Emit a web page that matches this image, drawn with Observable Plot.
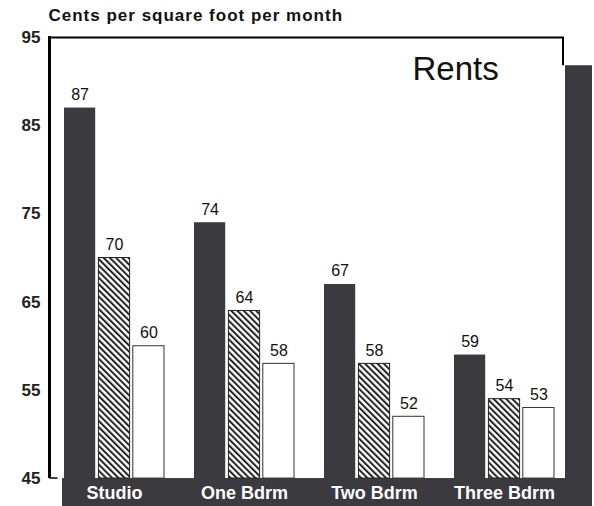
<!DOCTYPE html>
<html><head><meta charset="utf-8">
<script src="https://cdn.jsdelivr.net/npm/d3@7"></script>
<script src="https://cdn.jsdelivr.net/npm/@observablehq/plot@0.6"></script>
<style>body{margin:0;background:#fff} svg{display:block}</style>
</head><body><div id="chart"></div>
<script>
const categories = ["Studio", "One Bdrm", "Two Bdrm", "Three Bdrm"];
const seriesA = [87, 74, 67, 59];
const seriesB = [70, 64, 58, 54];
const seriesC = [60, 58, 52, 53];
const yTicks = [45, 55, 65, 75, 85, 95];
const title = "Rents";
const yLabel = "Cents per square foot per month";

const rows = [];
categories.forEach((c, i) => {
  rows.push({cat: c, s: 0, v: seriesA[i]});
  rows.push({cat: c, s: 1, v: seriesB[i]});
  rows.push({cat: c, s: 2, v: seriesC[i]});
});

const DARK = "#3a3a3f";
const yMin = 41.83, yBase = 45, yTop = 95, yShelf = 91.8;
const BW = 100.8, BAR = 32, STEP = 34.4;
const inL = s => s * STEP;
const inR = s => BW - (s * STEP + BAR);
const cdx = s => s * STEP + BAR / 2 - BW / 2;

// left axis line drawn with the plot's own y scale
function axisLine(index, scales, values, dimensions) {
  const g = d3.create("svg:g");
  const x = dimensions.marginLeft - 13.5;
  g.append("line").attr("x1", x).attr("x2", x)
    .attr("y1", scales.y(yTop) - 1).attr("y2", scales.y(yBase))
    .attr("stroke", "#000").attr("stroke-width", 3);
  g.append("line").attr("x1", x).attr("x2", x + 8)
    .attr("y1", scales.y(yBase)).attr("y2", scales.y(yBase))
    .attr("stroke", "#000").attr("stroke-width", 1.5);
  return g.node();
}

const marks = [
  // dark floor and right wall
  Plot.rect([0], {y1: yMin, y2: yBase, fill: DARK, insetLeft: -1, insetRight: -37}),
  Plot.rect([0], {y1: yMin, y2: yShelf, fill: DARK, insetLeft: 502, insetRight: -37}),
  // frame lines
  Plot.ruleY([yTop], {stroke: "#000", strokeWidth: 2, insetLeft: -15, insetRight: -9}),
  Plot.rect([0], {y1: yShelf, y2: yTop, fill: "#000", insetLeft: 499, insetRight: -9}),
  Plot.axisY({ticks: yTicks, label: null, tickSize: 0, tickPadding: 23, fontSize: 17, fontWeight: "bold", fill: "#222"}),
  // bars
  Plot.barY(rows.filter(d => d.s === 0), {x: "cat", y1: yMin, y2: "v", fill: DARK, insetLeft: inL(0), insetRight: inR(0)}),
  Plot.barY(rows.filter(d => d.s === 1), {x: "cat", y1: yBase, y2: "v", fill: "url(#hatch)", stroke: "#222", strokeWidth: 1, insetLeft: inL(1), insetRight: inR(1)}),
  Plot.barY(rows.filter(d => d.s === 2), {x: "cat", y1: yBase, y2: "v", fill: "#fff", stroke: "#333", strokeWidth: 1, insetLeft: inL(2), insetRight: inR(2)}),
  // value labels
  ...[0, 1, 2].map(s => Plot.text(rows.filter(d => d.s === s), {x: "cat", y: "v", text: d => String(d.v), dx: cdx(s), dy: -8, lineAnchor: "bottom", fontSize: 16, fill: "#111"})),
  // category labels
  Plot.text(categories, {x: d => d, y: 43.3, text: d => d, fill: "#fff", fontSize: 18, fontWeight: "bold", lineAnchor: "middle"}),
  // title & unit label
  Plot.text([title], {frameAnchor: "top-left", dx: 349, dy: 32, textAnchor: "start", lineAnchor: "middle", fontSize: 33, fill: "#111"}),
  Plot.text([yLabel], {frameAnchor: "top-left", dx: -15, dy: -21.5, textAnchor: "start", lineAnchor: "middle", fontSize: 17, fontWeight: "bold", fill: "#111"}),
  axisLine
];

const chart = Plot.plot({
  width: 594,
  height: 506,
  marginTop: 37,
  marginBottom: 0,
  marginLeft: 63,
  marginRight: 39,
  style: {fontFamily: "Liberation Sans, Arial, sans-serif", background: "#fff"},
  x: {domain: categories, paddingInner: 0.227, paddingOuter: 0, axis: null},
  y: {domain: [yMin, yTop], axis: null},
  marks
});

const ns = "http://www.w3.org/2000/svg";
const defs = document.createElementNS(ns, "defs");
defs.innerHTML = `<pattern id="hatch" patternUnits="userSpaceOnUse" width="4.4" height="4.4" patternTransform="rotate(-45)">
  <rect width="4.4" height="4.4" fill="#fff"/><rect x="0" y="0" width="2" height="4.4" fill="#222"/></pattern>`;
chart.insertBefore(defs, chart.firstChild);
d3.select(chart).selectAll("text").filter(function(){ return this.textContent === yLabel; }).attr("letter-spacing", "1");
document.getElementById("chart").appendChild(chart);
</script>
</body></html>
